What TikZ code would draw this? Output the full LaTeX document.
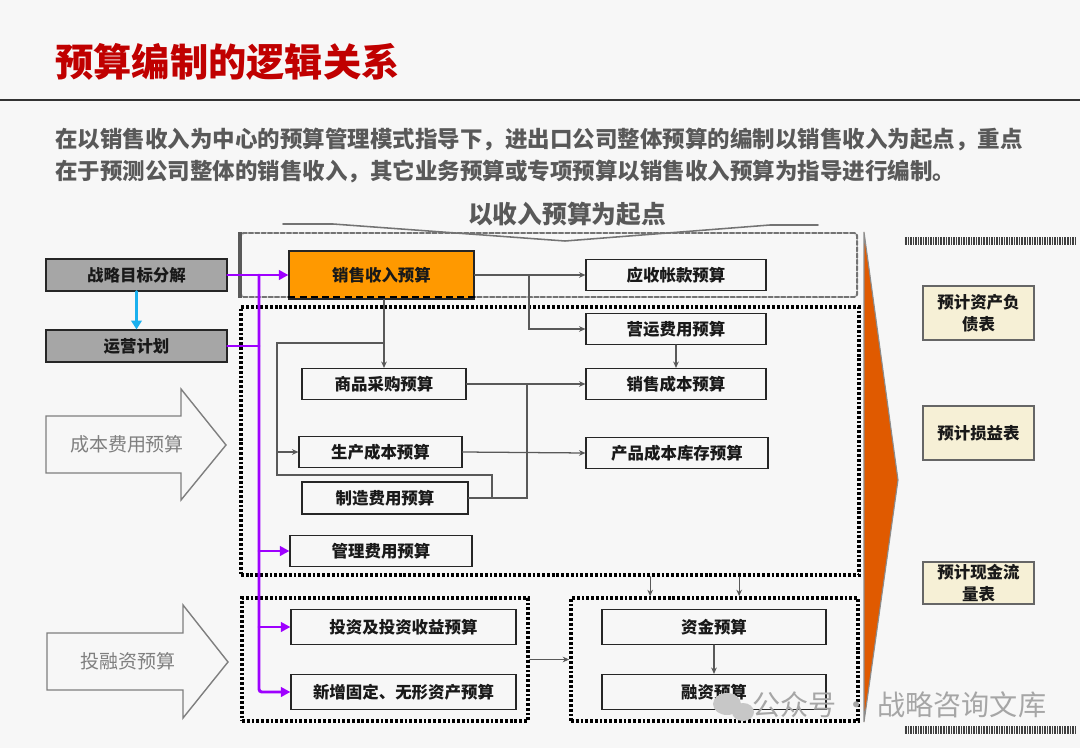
\documentclass[tikz,border=0pt]{standalone}
\usepackage{fontspec}
\setmainfont{Noto Sans CJK SC}
\usepackage{tikz}
\usetikzlibrary{arrows.meta}
\usepackage{xcolor}

\definecolor{pagebg}{HTML}{F7F7F7}
\definecolor{titlered}{HTML}{C00000}
\definecolor{textgray}{HTML}{595959}
\definecolor{arrowgray}{HTML}{7F7F7F}
\definecolor{boxgray}{HTML}{A6A6A6}
\definecolor{salesorange}{HTML}{FF9900}
\definecolor{wedgeorange}{HTML}{E05A00}
\definecolor{reportbeige}{HTML}{F6F0D6}
\definecolor{flowviolet}{HTML}{9E00FF}
\definecolor{planblue}{HTML}{1AB0EE}

\begin{document}
\begin{tikzpicture}[x=0.025cm,y=-0.025cm,>={Stealth[length=1.6mm,width=1.4mm]},line cap=round,
  budget/.style={draw=black!85,line width=0.8pt,fill=pagebg,inner sep=0pt,
    font=\fontsize{11.7}{14}\selectfont\bfseries,text=black!90},
  plan/.style={budget,fill=boxgray,minimum width=4.525cm,minimum height=0.8cm},
  report/.style={budget,fill=reportbeige,draw=black!60,align=center,minimum width=2.775cm,
    font=\fontsize{11.7}{16}\selectfont\bfseries},
  conn/.style={draw=textgray,line width=0.9pt},
  flow/.style={draw=flowviolet,line width=2.1pt,>={Triangle[length=2.4mm,width=2.4mm]}},
  dotframe/.style={draw=black,line width=2.6pt,dash pattern=on 2pt off 1.4pt,line cap=butt,inner sep=0pt},
  bigarrow/.style={draw=arrowgray,line width=1pt,fill=pagebg,line join=miter},
  arrowtext/.style={text=arrowgray,font=\fontsize{13.5}{16}\selectfont}]

% page
\fill[pagebg] (0,0) rectangle (1080,748);
\useasboundingbox (0,0) rectangle (1080,748);

% title and lead text
\node[anchor=west,text=titlered,font=\fontsize{27.2}{32}\selectfont\bfseries,inner sep=0pt] (title) at (55,62) {预算编制的逻辑关系};
\draw[black!80,line width=1.5pt] (0,100) -- (1080,100);
\node[anchor=west,text=textgray,font=\fontsize{16}{20}\selectfont\bfseries,inner sep=0pt] (lead1) at (55,140)
  {在以销售收入为中心的预算管理模式指导下，进出口公司整体预算的编制以销售收入为起点，重点};
\node[anchor=west,text=textgray,font=\fontsize{16}{20}\selectfont\bfseries,inner sep=0pt] (lead2) at (55,172)
  {在于预测公司整体的销售收入，其它业务预算或专项预算以销售收入预算为指导进行编制。};

% start label and brace
\node[text=textgray,font=\fontsize{17.6}{20}\selectfont\bfseries,inner sep=0pt] (startlabel) at (567,214) {以收入预算为起点};
\draw[black!55,line width=1.1pt] (283,224) -- (333,224) -- (565,241) -- (770,225) -- (818,225);

% frames
\node[draw=black!55,line width=1.4pt,dash pattern=on 3pt off 1.5pt,rounded corners=2pt,inner sep=0pt,
  minimum width=15.4cm,minimum height=1.6cm] (startframe) at (549,265) {};
\draw[black!65,line width=2.4pt,line cap=butt] (startframe.north west) -- (startframe.south west);
\node[dotframe,minimum width=15.45cm,minimum height=6.7cm] (costframe) at (550,441) {};
\node[dotframe,minimum width=7.15cm,minimum height=3.075cm] (investframe) at (385,659.5) {};
\node[dotframe,minimum width=7.175cm,minimum height=3.075cm] (fundframe) at (714.5,659.5) {};

% left side
\node[plan] (strat) at (136.5,275) {战略目标分解};
\node[plan] (ops) at (136.5,346) {运营计划};
\draw[planblue,line width=2pt,->,>={Triangle[length=2.2mm,width=2.6mm]}] (strat.south) -- (ops.north);

\draw[bigarrow] (46,416) -- (181,416) -- (181,389) -- (226,445) -- (181,500) -- (181,473) -- (46,473) -- cycle;
\node[arrowtext] (costarrow) at (127,444) {成本费用预算};
\draw[bigarrow] (47,633) -- (183,633) -- (183,605) -- (228,662) -- (183,718) -- (183,690) -- (47,690) -- cycle;
\node[arrowtext] (investarrow) at (128,661) {投融资预算};

% budgets
\node[budget,fill=salesorange,minimum width=4.625cm,minimum height=1.2cm] (sales) at (381.5,275) {销售收入预算};
\draw[black,line width=1.7pt,dash pattern=on 5pt off 3pt,line cap=butt] ([yshift=0.07cm]sales.south west) -- ([yshift=0.07cm]sales.south east);
\node[budget,minimum width=4.5cm,minimum height=0.775cm] (ar) at (676,275) {应收帐款预算};
\node[budget,minimum width=4.5cm,minimum height=0.775cm] (opex) at (676,329) {营运费用预算};
\node[budget,minimum width=4.1cm,minimum height=0.775cm] (purchase) at (384,384) {商品采购预算};
\node[budget,minimum width=4.5cm,minimum height=0.775cm] (cogs) at (676,384) {销售成本预算};
\node[budget,minimum width=4.075cm,minimum height=0.775cm] (prod) at (380.5,452) {生产成本预算};
\node[budget,minimum width=4.55cm,minimum height=0.775cm] (inv) at (677,453) {产品成本库存预算};
\node[budget,minimum width=4.15cm,minimum height=0.8cm] (mfg) at (385,498) {制造费用预算};
\node[budget,minimum width=4.55cm,minimum height=0.775cm] (admin) at (381,551) {管理费用预算};
\node[budget,minimum width=5.625cm,minimum height=0.875cm] (invest) at (403.5,627) {投资及投资收益预算};
\node[budget,minimum width=5.625cm,minimum height=0.875cm] (fixed) at (403.5,692) {新增固定、无形资产预算};
\node[budget,minimum width=5.6cm,minimum height=0.875cm] (fund) at (714,627) {资金预算};
\node[budget,minimum width=5.6cm,minimum height=0.875cm] (finance) at (714,692) {融资预算};

% gray links
\coordinate (salesfork) at (529,275);
\coordinate (costsplit) at (384,343);
\coordinate (costspine) at (277,475);
\coordinate (mfgjoin) at (492,498);
\coordinate (cogsbus) at (527,384);
\draw[conn,->] (sales.east) -- (ar.west);
\draw[conn,->] (salesfork) |- (opex.west);
\draw[conn,->] (purchase.north |- sales.south) -- (purchase.north);
\draw[conn] (costsplit) -| (costspine) -| (mfgjoin);
\draw[conn,->] (prod.west -| costspine) -- (prod.west);
\draw[conn] (mfg.east) -| (cogsbus);
\draw[conn,->] (purchase.east) -- (cogs.west);
\draw[conn,->] (prod.east) -- (inv.west);
\draw[conn,->] (opex.south) -- (cogs.north);
\draw[conn,->] ([xshift=2.025cm]fundframe.north west |- costframe.south) -- ([xshift=2.025cm]fundframe.north west);
\draw[conn,->] ([xshift=4.25cm]fundframe.north west |- costframe.south) -- ([xshift=4.25cm]fundframe.north west);
\draw[conn,->] (investframe.east) -- (fundframe.west);
\draw[conn,->] (fund.south) -- (finance.north);

% violet links
\coordinate (spinetop) at (259,275);
\draw[flow,->] (strat.east) -- (sales.west);
\draw[flow] (ops.east) -- (ops.east -| spinetop);
\draw[flow,->,rounded corners=2pt] (spinetop) |- (fixed.west);
\draw[flow,->] (admin.west -| spinetop) -- (admin.west);
\draw[flow,->] (invest.west -| spinetop) -- (invest.west);

% wedge and reports
\draw[black!45,line width=0.8pt,fill=wedgeorange] (864,232) -- (898,480) -- (864,722) -- cycle;
\draw[black!75,line width=5pt,dash pattern=on 1.1pt off 0.7pt,line cap=butt] (905,241) -- (1076,241);
\draw[black!75,line width=5pt,dash pattern=on 1.1pt off 0.7pt,line cap=butt] (905,730) -- (1076,730);
\node[report,minimum height=1.35cm] (balance) at (978.5,313) {预计资产负\\债表};
\node[report,minimum height=1.35cm] (income) at (978.5,433) {预计损益表};
\node[report,minimum height=1.05cm] (cashflow) at (978.5,583) {预计现金流\\量表};

% watermark
\fill[black!22] (727,704) ellipse (14 and 11);
\fill[black!22] (743,712) ellipse (11 and 9);
\node[anchor=west,text=black!35,font=\fontsize{20}{24}\selectfont,inner sep=0pt] (mark) at (752,705) {公众号 · 战略咨询文库};
\end{tikzpicture}
\end{document}
